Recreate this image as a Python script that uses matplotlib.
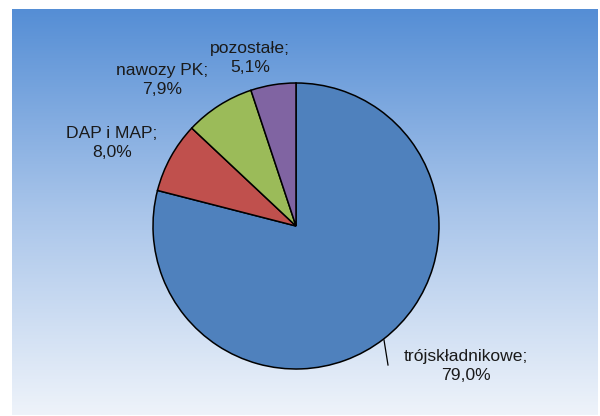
import numpy as np
import matplotlib
matplotlib.use('Agg')
import matplotlib.pyplot as plt
from matplotlib.colors import LinearSegmentedColormap

plt.rcParams['font.family'] = ['Liberation Sans', 'DejaVu Sans']

# data
categories = ['trójskładnikowe', 'DAP i MAP', 'nawozy PK', 'pozostałe']
shares = [79.0, 8.0, 7.9, 5.1]
colors = ['#4f81bd', '#c0504d', '#9bbb59', '#8064a2']
# label block centres in pixels (x from left, y from top)
label_px = [(466, 366), (112, 143), (162, 80), (250, 58)]

W, H = 600, 416
fig = plt.figure(figsize=(W / 100, H / 100), dpi=100)
fig.patch.set_facecolor('white')

# gradient panel
px0, px1, py0, py1 = 12, 598, 9, 415
bg = fig.add_axes([px0 / W, 1 - py1 / H, (px1 - px0) / W, (py1 - py0) / H])
cmap = LinearSegmentedColormap.from_list('bg', ['#558ed5', '#a9c5ea', '#eef3fa'])
grad = np.linspace(0, 1, 256).reshape(-1, 1)
bg.imshow(grad, aspect='auto', cmap=cmap, extent=[0, 1, 1, 0])
bg.set_axis_off()

# pie
cx, cy, r = 296, 226, 143
ax = fig.add_axes([(cx - r) / W, (H - cy - r) / H, 2 * r / W, 2 * r / H])
ax.pie(shares, colors=colors, startangle=90, counterclock=False, radius=1,
       wedgeprops=dict(edgecolor='black', linewidth=1.1))
ax.set_xlim(-1, 1)
ax.set_ylim(-1, 1)
ax.set_axis_off()


def to_data(px, py):
    return (px - cx) / r, (cy - py) / r


for name, val, (lx, ly) in zip(categories, shares, label_px):
    x, y = to_data(lx, ly)
    txt = f'{name};\n{val:.1f}%'.replace('.', ',')
    ax.text(x, y, txt, ha='center', va='center', fontsize=12.6,
            color='#1a1a1a', linespacing=1.28, clip_on=False)

# leader line for the big slice
x0, y0 = to_data(384, 340)
x1, y1 = to_data(388, 365)
ax.plot([x0, x1], [y0, y1], color='black', linewidth=0.9, clip_on=False)

fig.savefig('out.png', dpi=100, facecolor='white')
